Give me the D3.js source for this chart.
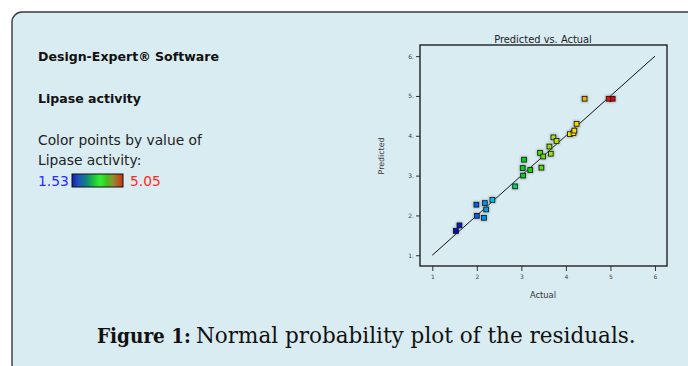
<!DOCTYPE html>
<html>
<head>
<meta charset="utf-8">
<script src="https://cdn.jsdelivr.net/npm/d3@7"></script>
<style>
  html, body { margin: 0; padding: 0; background: #ffffff; }
  svg { display: block; }
</style>
</head>
<body>
<svg id="chart" width="688" height="366"></svg>
<script>
// Lipase activity: actual vs. model-predicted values
const actual    = [1.53, 1.61, 1.99, 2.00, 2.18, 2.21, 2.16, 2.35, 2.86, 3.04, 3.03, 3.06, 3.20, 3.45, 3.42, 3.49, 3.63, 3.66, 3.72, 3.79, 4.09, 4.17, 4.19, 4.24, 4.42, 4.96, 5.05];
const predicted = [1.61, 1.75, 2.27, 1.99, 2.31, 2.15, 1.94, 2.39, 2.73, 3.00, 3.19, 3.40, 3.14, 3.20, 3.57, 3.48, 3.73, 3.55, 3.96, 3.87, 4.04, 4.07, 4.13, 4.30, 4.93, 4.93, 4.93];
const tickValues = [1, 2, 3, 4, 5, 6];
const colorRange = [1.53, 5.05];

// Colour ramp used for the points and the legend bar
const rampStops = [0, 0.13, 0.23, 0.36, 0.45, 0.62, 0.74, 0.83, 1];
const rampColors = ["#0808b8", "#0060f0", "#00c0f0", "#00d080", "#00d400", "#a8e400", "#ffe800", "#f0a800", "#e80000"];
const legendStops = [0, 0.12, 0.28, 0.42, 0.55, 0.68, 0.8, 0.9, 1];
const legendColors = ["#1020a0", "#2050c0", "#108080", "#20c040", "#30f030", "#40c020", "#909030", "#b06020", "#d03010"];

const svg = d3.select("#chart");
const bg = "#d9ecf2";

// Scale a text's font size so that it spans the given width
function fitWidth(sel, width) {
  const node = sel.node();
  const fs = parseFloat(sel.attr("font-size"));
  const w = node.getComputedTextLength();
  if (w > 0) sel.attr("font-size", (fs * width / w).toFixed(2));
  return sel;
}

// Panel with rounded corner
svg.append("rect")
  .attr("x", 12).attr("y", 12)
  .attr("width", 700).attr("height", 362)
  .attr("rx", 10).attr("ry", 10)
  .attr("fill", bg)
  .attr("stroke", "#3a3a3a").attr("stroke-width", 1.4);

// Left-side annotation
const info = svg.append("g").attr("font-family", "'DejaVu Sans', sans-serif").attr("fill", "#111");
const head = fitWidth(info.append("text").attr("x", 38).attr("y", 61).attr("font-size", 11).attr("font-weight", 700).text("Design-Expert® Software"), 181);
info.append("text").attr("x", 38).attr("y", 103).attr("font-size", head.attr("font-size")).attr("font-weight", 700).text("Lipase activity");
const l1 = fitWidth(info.append("text").attr("x", 38).attr("y", 145).attr("font-size", 12).attr("fill", "#222").text("Color points by value of"), 164);
const bodySize = l1.attr("font-size");
info.append("text").attr("x", 38).attr("y", 165).attr("font-size", bodySize).attr("fill", "#222").text("Lipase activity:");
info.append("text").attr("x", 38).attr("y", 186).attr("font-size", bodySize).attr("fill", "#2a2aff").text(d3.format(".2f")(colorRange[0]));
info.append("text").attr("x", 130).attr("y", 186).attr("font-size", bodySize).attr("fill", "#ff2a2a").text(d3.format(".2f")(colorRange[1]));

const defs = svg.append("defs");
const grad = defs.append("linearGradient").attr("id", "ramp").attr("x1", "0%").attr("x2", "100%");
legendStops.forEach((s, i) => grad.append("stop").attr("offset", s).attr("stop-color", legendColors[i]));
info.append("rect").attr("x", 72).attr("y", 174).attr("width", 51).attr("height", 13)
  .attr("fill", "url(#ramp)").attr("stroke", "#111").attr("stroke-width", 1);

const haze = defs.append("filter").attr("id", "haze").attr("x", "-60%").attr("y", "-60%").attr("width", "220%").attr("height", "220%");
haze.append("feGaussianBlur").attr("stdDeviation", 0.8);

// Plot
const plot = { left: 420, right: 667, top: 45, bottom: 266 };
const x = d3.scaleLinear().domain([0.724, 6.27]).range([plot.left, plot.right]);
const y = d3.scaleLinear().domain([0.73, 6.28]).range([plot.bottom, plot.top]);
const color = d3.scaleLinear()
  .domain(rampStops.map(s => colorRange[0] + s * (colorRange[1] - colorRange[0])))
  .range(rampColors).clamp(true);

const axisFont = "'DejaVu Sans', sans-serif";

const xAxis = svg.append("g")
  .attr("transform", `translate(0,${plot.bottom})`)
  .call(d3.axisBottom(x).tickValues(tickValues).tickSize(5).tickPadding(4).tickFormat(d3.format("d")));
const yAxis = svg.append("g")
  .attr("transform", `translate(${plot.left},0)`)
  .call(d3.axisLeft(y).tickValues(tickValues).tickSize(4).tickPadding(2).tickFormat(d => d + "."));
[xAxis, yAxis].forEach(a => {
  a.select(".domain").remove();
  a.selectAll("line").attr("stroke", "#333").attr("stroke-width", 1);
  a.selectAll("text").attr("font-family", axisFont).attr("font-size", 6).attr("fill", "#444");
});

svg.append("rect")
  .attr("x", plot.left).attr("y", plot.top)
  .attr("width", plot.right - plot.left).attr("height", plot.bottom - plot.top)
  .attr("fill", "none").attr("stroke", "#111").attr("stroke-width", 1.3);

// Reference line y = x
svg.append("line")
  .attr("x1", x(1)).attr("y1", y(1)).attr("x2", x(6)).attr("y2", y(6))
  .attr("stroke", "#111").attr("stroke-width", 1);

const pts = actual.map((a, i) => ({ a, p: predicted[i] }));
svg.append("g").selectAll("rect").data(pts).join("rect")
  .attr("x", d => x(d.a) - 3.5).attr("y", d => y(d.p) - 3.5)
  .attr("width", 7).attr("height", 7)
  .attr("fill", "#7a8a90").attr("opacity", 0.55).attr("filter", "url(#haze)");
svg.append("g").selectAll("rect").data(pts).join("rect")
  .attr("x", d => x(d.a) - 2.4).attr("y", d => y(d.p) - 2.4)
  .attr("width", 4.8).attr("height", 4.8)
  .attr("fill", d => color(d.a)).attr("stroke", "#111").attr("stroke-width", 0.8);

// Titles
fitWidth(svg.append("text").attr("x", 543).attr("y", 43).attr("text-anchor", "middle")
  .attr("font-family", axisFont).attr("font-size", 9).attr("fill", "#222").text("Predicted vs. Actual"), 98);
fitWidth(svg.append("text").attr("x", 543).attr("y", 298).attr("text-anchor", "middle")
  .attr("font-family", axisFont).attr("font-size", 8).attr("fill", "#333").text("Actual"), 26);
fitWidth(svg.append("text").attr("transform", "translate(384,156) rotate(-90)").attr("text-anchor", "middle")
  .attr("font-family", axisFont).attr("font-size", 8).attr("fill", "#333").text("Predicted"), 37);

// Caption: bold label followed by the description, ending at x = 636
const cap = svg.append("g").attr("fill", "#111");
const capLabel = cap.append("text").attr("x", 97).attr("y", 343)
  .attr("font-family", "'DejaVu Serif Condensed', 'DejaVu Serif', serif").attr("font-stretch", "condensed")
  .attr("font-weight", 700).attr("font-size", 20.5).text("Figure 1:");
const labelEnd = 97 + capLabel.node().getComputedTextLength() + 5;
fitWidth(cap.append("text").attr("x", labelEnd).attr("y", 343)
  .attr("font-family", "'DejaVu Serif', serif").attr("font-size", 21).text("Normal probability plot of the residuals."), 636 - labelEnd);
</script>
</body>
</html>
